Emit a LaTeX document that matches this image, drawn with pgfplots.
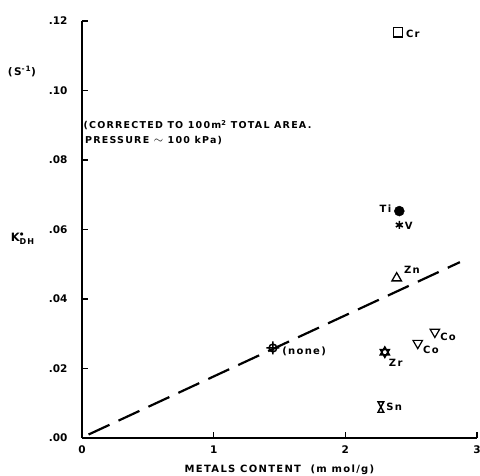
\documentclass[border=0pt]{standalone}
\usepackage{pgfplots}
\pgfplotsset{compat=1.18}
\usepackage{amsmath}
\usepackage{fontspec}
\setmainfont{DejaVu Sans}
\newfontfamily\lettering[LetterSpace=13]{DejaVu Sans}
\usetikzlibrary{calc}
\pgfdeclareplotmark{hourglass}{%
  \pgfpathmoveto{\pgfqpoint{-0.55\pgfplotmarksize}{\pgfplotmarksize}}%
  \pgfpathlineto{\pgfqpoint{0.55\pgfplotmarksize}{\pgfplotmarksize}}%
  \pgfpathlineto{\pgfqpoint{-0.55\pgfplotmarksize}{-\pgfplotmarksize}}%
  \pgfpathlineto{\pgfqpoint{0.55\pgfplotmarksize}{-\pgfplotmarksize}}%
  \pgfpathclose
  \pgfusepathqstroke}
\pgfdeclareplotmark{crosshair}{%
  \pgfpathcircle{\pgfpointorigin}{0.6\pgfplotmarksize}%
  \pgfpathmoveto{\pgfqpoint{-\pgfplotmarksize}{0pt}}%
  \pgfpathlineto{\pgfqpoint{\pgfplotmarksize}{0pt}}%
  \pgfpathmoveto{\pgfqpoint{0pt}{-\pgfplotmarksize}}%
  \pgfpathlineto{\pgfqpoint{0pt}{\pgfplotmarksize}}%
  \pgfusepathqstroke}
\pgfdeclareplotmark{hexagram}{%
  \pgfpathmoveto{\pgfqpoint{0pt}{\pgfplotmarksize}}%
  \pgfpathlineto{\pgfqpoint{0.866\pgfplotmarksize}{-0.5\pgfplotmarksize}}%
  \pgfpathlineto{\pgfqpoint{-0.866\pgfplotmarksize}{-0.5\pgfplotmarksize}}%
  \pgfpathclose
  \pgfpathmoveto{\pgfqpoint{0pt}{-\pgfplotmarksize}}%
  \pgfpathlineto{\pgfqpoint{0.866\pgfplotmarksize}{0.5\pgfplotmarksize}}%
  \pgfpathlineto{\pgfqpoint{-0.866\pgfplotmarksize}{0.5\pgfplotmarksize}}%
  \pgfpathclose
  \pgfusepathqfillstroke}
\begin{document}
\begin{tikzpicture}
\begin{axis}[
  name=ax, at={(0,0)}, anchor=origin,
  scale only axis, width=395pt, height=417pt,
  xmin=0, xmax=3, ymin=0, ymax=0.12,
  axis x line*=bottom, axis y line*=left,
  axis line style={-, line width=1.2pt},
  clip=false,
  xtick={0,1,2,3}, xticklabels={0,1,2,3},
  ytick={0,0.02,0.04,0.06,0.08,0.10,0.12},
  yticklabels={.00,.02,.04,.06,.08,.10,.12},
  tick align=inside, major tick length=6pt,
  tick style={line width=1.1pt, black},
  ticklabel style={font=\fontsize{10.5}{12}\selectfont\bfseries},
  yticklabel style={xshift=-11pt},
  xticklabel style={yshift=-4pt},
]
\addplot[black, dash pattern=on 23pt off 10pt, line width=2.2pt] coordinates {(0.05,0.001) (2.87,0.0506)};
% Cr
\addplot[only marks, mark=square, mark size=4.7pt, line width=1.4pt] coordinates {(2.40,0.1168)};
% Ti
\addplot[only marks, mark=*, mark size=5pt, black] coordinates {(2.41,0.0653)};
% V
\addplot[only marks, mark=asterisk, mark size=4pt, line width=1.6pt] coordinates {(2.41,0.0613)};
% Zn
\addplot[only marks, mark=triangle, mark size=5.5pt, line width=1.3pt] coordinates {(2.39,0.0460)};
% none
\addplot[only marks, mark=crosshair, mark size=6.5pt, line width=1.5pt] coordinates {(1.45,0.0259)};
% Zr
\addplot[only marks, mark=hexagram, mark size=5.2pt, line width=1.5pt, fill=black] coordinates {(2.30,0.0247)};
% Co
\addplot[only marks, mark=triangle, mark options={rotate=180}, mark size=5.5pt, line width=1.2pt] coordinates {(2.55,0.0273) (2.68,0.0305)};
% Sn
\addplot[only marks, mark=hourglass, mark size=5.2pt, line width=1.4pt] coordinates {(2.27,0.0089)};

\tikzset{lab/.style={font=\lettering\fontsize{10}{12}\selectfont\bfseries, inner sep=0pt}}
\node[lab, anchor=west] at (axis cs:2.46,0.1163) {Cr};
\node[lab, anchor=east] at (axis cs:2.35,0.0660) {Ti};
\node[lab, anchor=west] at (axis cs:2.45,0.0610) {V};
\node[lab, anchor=west] at (axis cs:2.445,0.0485) {Zn};
\node[lab, anchor=west] at (axis cs:1.52,0.0250) {(none)};
\node[lab, anchor=west] at (axis cs:2.33,0.0215) {Zr};
\node[lab, anchor=west] at (axis cs:2.59,0.0253) {Co};
\node[lab, anchor=west] at (axis cs:2.72,0.0290) {Co};
\node[lab, anchor=west] at (axis cs:2.31,0.0090) {Sn};
\node[font=\lettering\fontsize{9.5}{15}\selectfont\bfseries, anchor=north west, align=left, inner sep=0pt]
  at (axis cs:0.01,0.0915) {(CORRECTED TO 100m\textsuperscript{2} TOTAL AREA.\\ \,PRESSURE {\large$\sim$} 100 kPa)};
\node[font=\lettering\fontsize{10.5}{10}\selectfont\bfseries] at (rel axis cs:-0.152,0.88) {(S\textsuperscript{-1})};
\node[font=\lettering\fontsize{11.5}{10}\selectfont\bfseries] at (rel axis cs:-0.150,0.478) {K$^{\bullet}_{\text{\lettering\bfseries DH}}$};
\node[font=\lettering\fontsize{10}{10}\selectfont\bfseries] at (rel axis cs:0.50,-0.077) {METALS CONTENT \ (m mol/g)};
\coordinate (O) at (rel axis cs:0,0);
\end{axis}
\pgfresetboundingbox
\path (O) ++(-82pt,-38pt) rectangle ++(480pt,476pt);
\end{tikzpicture}
\end{document}
